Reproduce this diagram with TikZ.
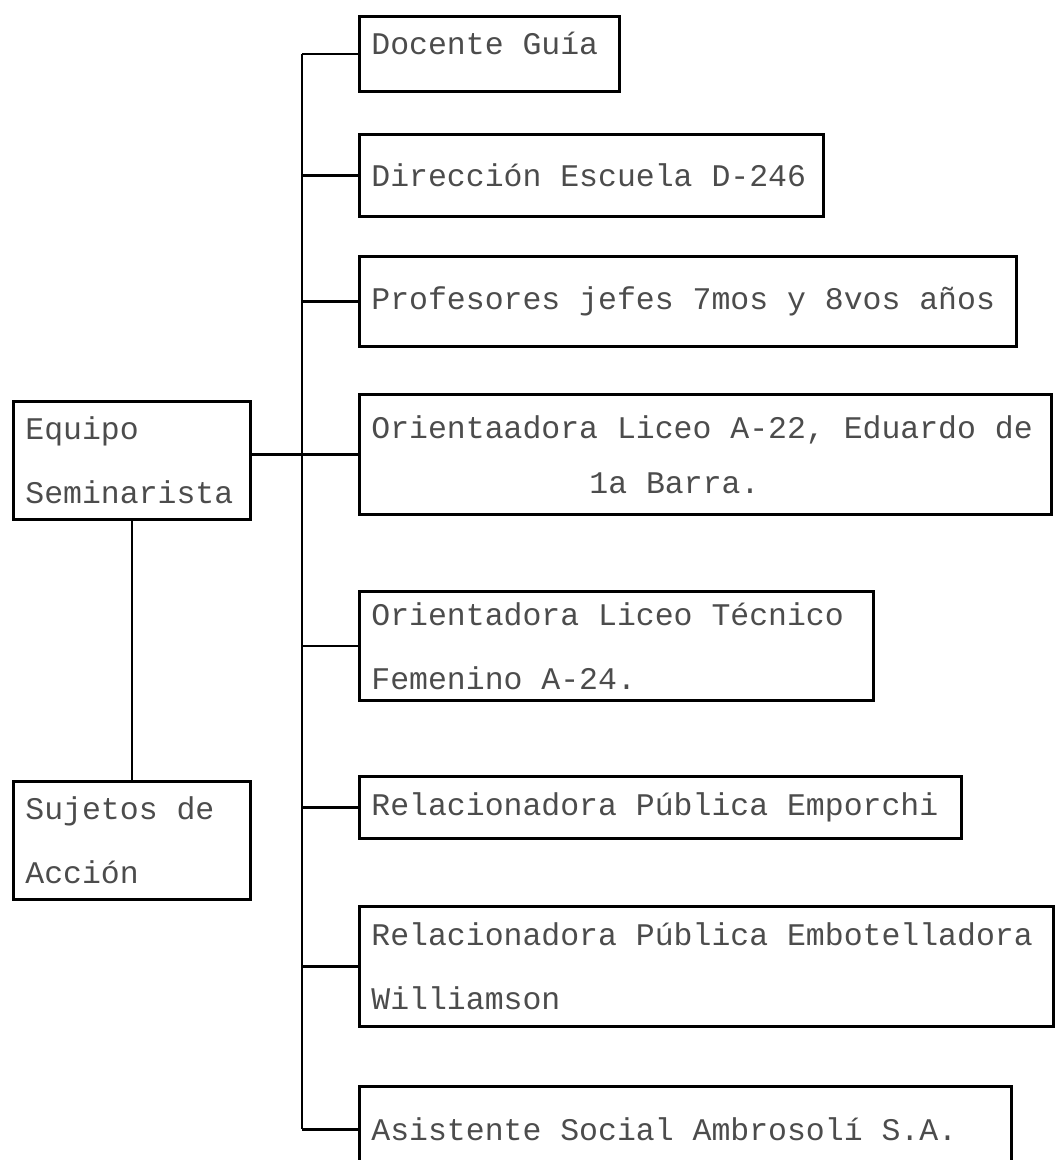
\documentclass[tikz,border=0pt]{standalone}
\usepackage{fontspec}
\newfontfamily\maquina{Liberation Mono}
\newcommand{\letramaquina}[1]{\maquina\fontsize{22.4}{#1}\selectfont}
\usepackage{tikz}

\begin{document}
\begin{tikzpicture}[line width=2pt,
                caja/.style={draw, anchor=north west, inner xsep=0.3cm, inner ysep=0pt, align=left,
                             text=black!70, font=\letramaquina{45.5},
                             execute at begin node={\spaceskip=13.44pt\xspaceskip=13.44pt\relax}}]

            \useasboundingbox (0,0) rectangle (26.4,-29);

            \node[caja, text width=5.9cm, minimum height=1.875cm, text depth=0.55cm] (docente) at (8.95,-0.375) {Docente Guía};
            \node[caja, text width=11cm, minimum height=2.05cm] (direccion) at (8.95,-3.325) {Dirección Escuela D-246};
            \node[caja, text width=15.825cm, minimum height=2.25cm] (profesores) at (8.95,-6.375) {Profesores jefes 7mos y 8vos años};
            \node[caja, text width=16.7cm, minimum height=3cm, font=\letramaquina{39}] (orientA) at (8.95,-9.825) {Orientaadora Liceo A-22, Eduardo de\\\hspace*{5.45cm}1a Barra.};
            \node[caja, text width=12.25cm, minimum height=2.725cm] (orientB) at (8.95,-14.75) {Orientadora Liceo Técnico\\Femenino A-24.};
            \node[caja, text width=14.45cm, minimum height=1.55cm] (emporchi) at (8.95,-19.375) {Relacionadora Pública Emporchi};
            \node[caja, text width=16.75cm, minimum height=3cm] (embotella) at (8.95,-22.625) {Relacionadora Pública Embotelladora\\Williamson};
            \node[caja, text width=15.7cm, minimum height=2.15cm] (asistente) at (8.95,-27.125) {Asistente Social Ambrosolí S.A.};

            \node[caja, text width=5.325cm, minimum height=2.95cm] (equipo) at (0.3,-10) {Equipo\\Seminarista};
            \node[caja, text width=5.325cm, minimum height=2.95cm] (sujetos) at (0.3,-19.5) {Sujetos de\\Acción};

            \coordinate (tronco) at (7.55,0);

            \path[draw]
            (docente.west -| tronco) edge (asistente.west -| tronco)
            (docente.west) edge (docente.west -| tronco)
            (direccion.west) edge (direccion.west -| tronco)
            (profesores.west) edge (profesores.west -| tronco)
            (orientA.west) edge (orientA.west -| equipo.east)
            (orientB.west) edge (orientB.west -| tronco)
            (emporchi.west) edge (emporchi.west -| tronco)
            (embotella.west) edge (embotella.west -| tronco)
            (asistente.west) edge (asistente.west -| tronco)
            (equipo.south) edge (sujetos.north);

        \end{tikzpicture}
\end{document}
